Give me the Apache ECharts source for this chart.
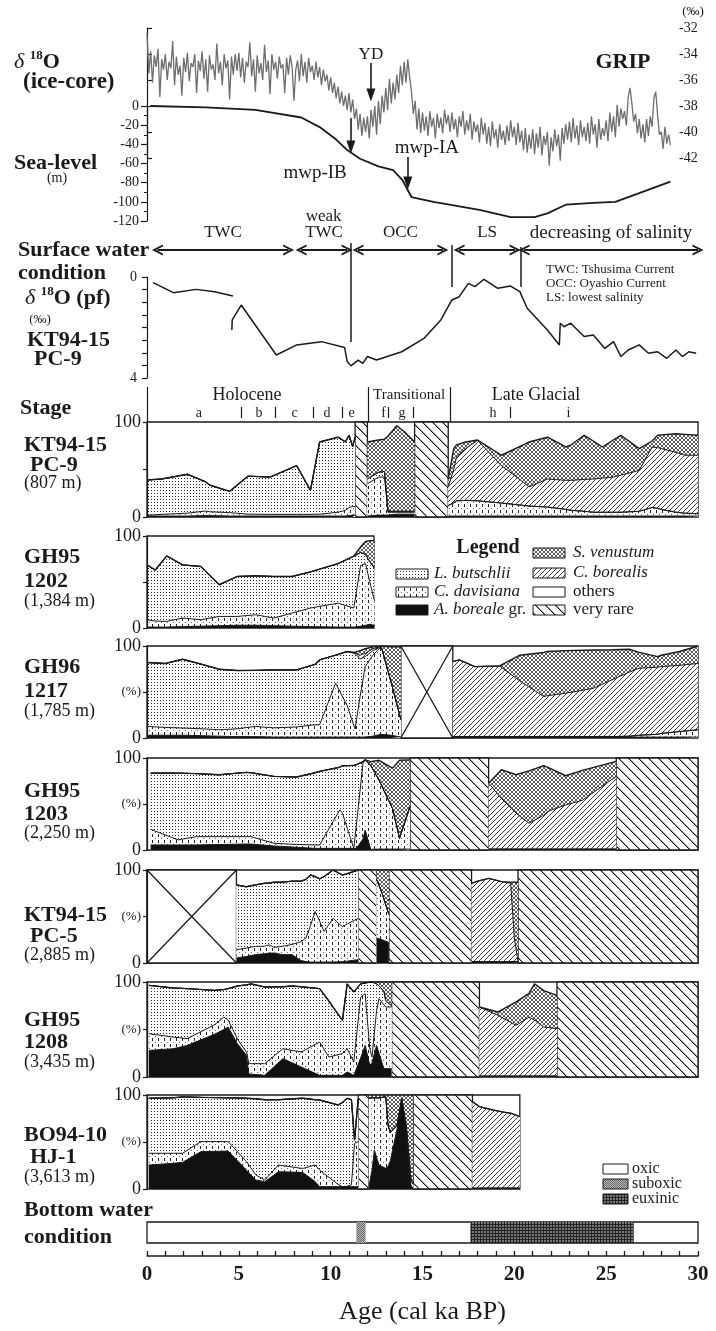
<!DOCTYPE html>
<html><head><meta charset="utf-8"><title>chart</title>
<script src="https://cdn.jsdelivr.net/npm/echarts@6/dist/echarts.min.js"></script>
<style>html,body{margin:0;padding:0;background:#fff;}#chart{width:716px;height:1331px;}</style>
</head><body><div id="chart"></div>
<script>
// ====================== DATA ======================
// GRIP ice-core d18O (permil), sampled every 0.1 ka from 0 ka
const gripStart = 0.0, gripStep = 0.1;
const gripValues = [
-32.4,-35.5,-33.8,-36.2,-34.1,-35.0,-33.6,-37.3,-34.4,-35.2,
-34.0,-36.0,-34.6,-35.1,-33.0,-36.4,-34.2,-35.6,-34.9,-37.2,
-34.3,-35.4,-33.9,-36.1,-34.7,-35.0,-34.0,-37.0,-34.5,-35.3,
-33.8,-35.9,-34.4,-36.9,-34.1,-35.2,-34.8,-36.0,-33.2,-35.5,
-34.6,-36.4,-34.0,-35.1,-34.5,-37.5,-34.2,-35.6,-34.0,-35.3,
-33.9,-35.8,-34.3,-36.2,-34.6,-35.0,-33.1,-35.7,-34.4,-36.9,
-34.1,-35.5,-34.7,-36.0,-33.3,-35.4,-34.5,-37.1,-34.0,-35.2,
-34.6,-35.9,-34.2,-35.1,-34.8,-37.0,-34.3,-35.6,-34.1,-35.0,
-37.6,-35.2,-34.5,-36.1,-34.0,-35.7,-34.6,-36.2,-34.3,-35.4,
-34.9,-36.0,-34.6,-35.8,-35.0,-36.4,-35.2,-36.1,-35.6,-36.8,
-35.8,-37.0,-36.2,-37.4,-36.5,-37.8,-36.9,-38.0,-37.2,-38.3,
-37.0,-38.5,-37.5,-39.0,-38.2,-39.8,-38.6,-40.3,-38.9,-40.0,
-38.8,-40.5,-38.3,-39.6,-38.0,-40.2,-37.6,-39.4,-37.2,-38.5,
-36.6,-38.3,-35.9,-37.8,-36.2,-37.5,-35.6,-37.0,-34.9,-36.4,
-34.6,-36.2,-34.4,-35.8,-36.9,-38.6,-37.6,-39.8,-38.2,-40.1,
-38.5,-39.9,-38.8,-40.3,-38.4,-39.6,-38.9,-40.5,-38.6,-39.7,
-38.9,-40.1,-38.3,-39.4,-38.7,-40.0,-38.5,-39.8,-39.0,-40.4,
-38.8,-39.6,-38.4,-40.2,-39.1,-39.9,-38.6,-40.6,-39.2,-40.0,
-39.4,-40.8,-38.9,-40.2,-39.3,-40.9,-39.6,-41.1,-39.2,-40.5,
-39.8,-41.2,-39.4,-40.6,-39.9,-41.0,-39.5,-40.7,-39.1,-40.4,
-39.6,-41.0,-39.3,-40.8,-39.9,-41.4,-39.7,-41.6,-40.2,-41.3,
-39.8,-41.7,-40.1,-41.2,-39.6,-41.8,-40.3,-41.0,-40.0,-42.6,
-40.4,-41.5,-39.8,-41.1,-40.2,-42.2,-39.7,-40.9,-39.4,-40.6,
-39.2,-40.8,-38.9,-40.5,-39.5,-41.0,-39.1,-40.4,-39.6,-40.7,
-39.3,-40.9,-38.8,-40.2,-39.4,-41.2,-39.0,-40.6,-39.7,-40.3,
-39.1,-40.7,-38.5,-40.0,-38.8,-40.4,-37.9,-39.6,-38.2,-39.0,
-38.4,-39.5,-37.3,-36.6,-37.8,-39.2,-38.6,-40.1,-39.0,-40.5,
-39.4,-40.8,-39.0,-40.3,-38.8,-39.6,-37.4,-36.9,-38.7,-40.2,
-40.0,-41.3,-39.6,-40.9,-40.2,-41.0
];

// Sea level (m)
const seaAges  = [0.2,3.2,5.9,8.4,9.4,10.3,10.9,11.6,12.6,13.4,13.9,14.4,15.6,18.1,19.8,21.1,21.8,22.8,24.3,25.5,26.8,28.5];
const seaLevel = [0,-1.4,-4,-12,-22,-35,-46,-55,-63,-67,-77,-95,-100,-108.5,-116,-116,-112,-103,-101,-100,-91,-79];

// d18O planktonic foraminifera, KT94-15 PC-9 (two pieces)
const pfAges1 = [0.33,1.44,2.68,3.68,4.68];
const pfValues1 = [0.22,0.62,0.49,0.58,0.75];
const pfAges2 = [4.62,4.64,5.13,7.04,8.15,9.5,10.76,10.9,11.1,11.5,11.75,12.0,12.5,13.87,15.1,16.0,16.6,17.0,17.5,17.85,18.35,19.1,19.8,20.3,20.7,21.8,22.45,22.5,22.7,23.07,23.8,24.3,24.93,25.4,25.8,26.2,26.8,27.3,27.8,28.3,28.8,29.15,29.5,29.9];
const pfValues2 = [2.1,1.7,1.11,3.09,2.69,2.56,2.79,3.35,3.52,3.29,3.42,3.15,3.29,2.96,2.42,1.70,0.91,0.78,0.25,0.38,0.09,0.45,0.36,0.58,1.24,2.1,2.69,1.83,1.97,1.83,2.36,2.30,2.83,2.56,3.15,2.89,2.69,3.02,2.96,3.22,2.89,3.15,2.96,3.02];

// Surface water conditions
const surfaceZones = [[0.57,7.71],[8.39,10.89],[11.49,16.11],[16.99,20.04],[20.53,30]];
const surfaceNames = ['TWC','TWC','OCC','LS','decreasing of salinity'];
const surfaceBoundaries = [11.1,16.6,20.36];
const eventNames = ['YD','mwp-IB','mwp-IA'];
const eventAges = [12.19,11.1,14.2];

// Stages
const stageNames = ['Holocene','Transitional','Late Glacial'];
const stageBounds = [0,12.03,16.49];
const substageNames = ['a','b','c','d','e','f','g','h','i'];
const substageBounds = [5.12,6.97,9.04,10.64,13.12,14.48,19.76];

// Cumulative tops (%) of: B = A. boreale gr., D = C. davisiana, L = L. butschlii, C = C. borealis, S = S. venustum
// KT94-15 PC-9
const pc9A_age = [0,0.8,2.2,3.2,3.4,4.5,5.5,6.7,8.15,8.9,9.4,10.4,10.8,11.0,11.2,11.33];
const pc9A_B = [1,1,1,1.5,1.5,1,1,1,1,1,1,1,1,1.5,2,2];
const pc9A_D = [1.7,2.8,4,6.3,5.5,4.6,3,2.8,2.8,2.8,3,5,7,10,11,11];
const pc9A_L = [39,40,45,37,33.7,27,43,42,54,28,79,84,79,86,74,84];
const pc9B_age = [12.0,12.6,12.93,13.12,13.6,14.0,14.57];
const pc9B_B = [1,2,2,2,3,3,3];
const pc9B_D = [35,42,42,5,5,5,5];
const pc9B_L = [40,47,48,6,6,6,6];
const pc9B_S = [79,81,82,85,96,90,79];
const pc9C_age = [16.4,16.7,16.85,17.35,18.0,19.3,20.6,20.8,21.8,22.8,23.1,23.8,24.3,24.8,25.3,25.8,26.8,27.5,27.8,28.0,28.8,29.3,30];
const pc9C_B = [1,1,1,1,1,1,1,1,1,1,1,1,1,1,1,1,1,1,1,1,1,1,1];
const pc9C_D = [12,15,17,17.5,17,14.7,12,11.5,10.5,8,7,6,5,5,5,5,6,10,9,8,5,4,3.5];
const pc9C_C = [31.6,50,63,72,80.7,54,35,31.6,40,38.6,38.6,39.5,40,41,41.7,44,49,73.7,73,72,68,65,65];
const pc9C_S = [40,72,76,79,81,65,77,79,84,73.7,76,86,80,73.7,80,86,72,80,86,86.5,87.7,87,86];
const pc9Rare = [[11.33,12.0],[14.57,16.4]];

// GH95-1202
const g1202_age = [0,0.45,1.07,1.94,2.93,3.93,4.92,5.92,6.9,7.9,8.9,10.4,11.26,11.63,11.9,12.13,12.38];
const g1202_B = [1,1,1,1.5,2,2.5,3,3,2.5,2,1.5,1,1,2,3,4,3];
const g1202_D = [9,7.5,7.2,10.8,9,12.6,12.6,14.4,10.8,16.2,21.7,27,21.7,68,70,50,30];
const g1202_L = [68.6,63,78.3,68.6,66.8,47,56,56.7,56,56,61,70,78,82,80,72,65];
const g1202_S = [68.6,63,78.3,68.6,66.8,47,56,56.7,56,56,61,70,78,88,94,95,95];

// GH96-1217
const g1217A_age = [0,1.0,1.94,3.0,3.93,4.92,5.9,6.9,8.15,9.15,9.4,10.27,10.9,11.33,11.6,11.88,12.3,12.75,13.3,13.82];
const g1217A_B = [3,3,3,2.5,2,1.5,1.5,1,1,1,1,1,1,1,1,1,2,4,3,1];
const g1217A_D = [12.6,11.5,10.8,10,9,10,12.6,11,12,14.4,14.4,59.6,35,9.7,45,77.6,90,99,60,20];
const g1217A_L = [82,81,85.6,80,74.7,73.3,73.5,74,74,80,85,90,94,92,86,88.4,95,99,60,20];
const g1217A_C = [82,81,85.6,80,74.7,73.3,73.5,74,74,80,85,90,94,92,90,92,97,99.5,60,20];
const g1217A_S = [82,81,85.6,80,74.7,73.3,73.5,74,74,80,85,90,94,93,95,97,99,100,99,99];
const g1217B_age = [16.65,17.0,17.85,19.2,20.3,21.6,21.8,22.8,24.3,25.3,26.3,26.8,27.8,28.0,29.0,30];
const g1217B_B = [1,1,1,1,1,1,1,1,1,1,1,1,1,1,1,1];
const g1217B_D = [1.5,1.5,1.5,1.5,1.5,1.5,1.5,1.5,1.5,1.5,2,3,4,5,7,9];
const g1217B_C = [83,85,77.6,78.3,62,45,46,48.7,54,63,72,75.8,77,77.6,79,81];
const g1217B_S = [83,85,77.6,78.3,90,93,94,95,95.7,96,96.4,93,88.4,90,94,100];
const g1217None = [[13.82,16.65]];

// GH95-1203
const g1203A_age = [0.2,1.69,2.68,3.93,5.42,5.67,6.9,8.15,9.15,9.4,10.5,10.64,11.26,11.4,11.76,11.88,12.18,12.63,13.37,13.75,14.32];
const g1203A_B = [5.5,5.5,5.5,6,6.5,6.5,4.4,3,1.8,1.8,1.8,1.8,1.8,1.8,12,21.8,0.7,1,1,1,1];
const g1203A_D = [22.5,11,14.5,14.5,14.5,14.5,7.3,6,5.5,5.5,43.6,40,1.8,27,94.5,98,92,76,45,12.7,47];
const g1203A_L = [83.6,83.6,83,81.8,84.4,84,80,79.3,84,85.5,90,91.6,92,92.7,96,98,92,76,45,12.7,47];
const g1203A_S = [83.6,83.6,83,81.8,84.4,84,80,79.3,84,85.5,90,91.6,92,92.7,96,98,96,97.5,89,97.5,98];
const g1203B_age = [18.6,19.3,20.1,20.8,21.6,21.8,22.8,23.7,25.55];
const g1203B_B = [0.5,0.5,0.5,0.5,0.5,0.5,0.5,0.5,0.5];
const g1203B_D = [1,1,1,1,1,1,1,1,1];
const g1203B_C = [72.7,56,40,29,38,41.8,49,54,80];
const g1203B_S = [72.7,87.3,81.8,86,91.6,90,80.7,86.5,96.4];
const g1203Rare = [[14.32,18.6],[25.55,30]];

// KT94-15 PC-5
const pc5A_age = [4.87,5.4,5.9,6.4,6.66,6.9,7.4,7.9,8.4,8.65,8.9,9.15,9.4,9.64,10.14,10.64,10.9,11.5];
const pc5A_B = [5.4,7,9,10,10.7,10.7,9,9,2.5,1.5,1,1,1,1,1,1.5,2,3.6];
const pc5A_D = [14.3,16,17.9,18,19.6,16.8,18,20,23,26.8,40,55.4,45,33.9,48,39,42,48];
const pc5A_L = [84,82,84,85.7,86,86.8,87,88,88,90,94.6,93,90.4,93,100,94.6,96,100];
const pc5B_age = [12.5,12.8,13.17];
const pc5B_B = [27,25,22];
const pc5B_D = [90,75,52];
const pc5B_S = [100,100,100];
const pc5C_age = [17.67,18.0,18.6,19.3,19.8,20.0,20.2];
const pc5C_B = [1,1,1,1,1,1,1];
const pc5C_D = [1.5,1.5,1.5,1.5,1.5,1.5,1.5];
const pc5C_C = [85.7,88,91,87.5,85.7,26.8,1.8];
const pc5C_S = [85.7,88,91,87.5,87,86.8,86.8];
const pc5Rare = [[11.5,12.5],[13.17,17.67],[20.2,30]];
const pc5None = [[0,4.87]];

// GH95-1208
const g1208A_age = [0.1,1.44,2.19,3.68,4.18,4.42,4.92,5.42,5.54,5.67,6.41,7.4,7.9,8.4,9.4,9.9,10.64,10.9,11.26,11.63,11.88,12.13,12.25,12.5,12.63,12.9,13.0,13.32];
const g1208A_B = [28,29.8,33.3,45,50,52.6,35,22.8,3.5,3,1.75,19.3,15,10.5,1.75,1.75,1.75,5.3,1.75,20,33.3,12.3,15,33.3,25,8.8,8.8,8.8];
const g1208A_D = [45.6,42,40.4,55,63,60,40,26,15,14,14,29.8,28,26.3,36.8,21,24.6,29.8,15.8,84,87.7,30,21,70,82.5,76,73.7,73.7];
const g1208A_L = [96.5,93.7,93,91.2,92,93,95.8,97,97.5,98,94.7,95,95.8,95,93,80,59.6,98,89.5,98,99,100,100,98,96,90,80,75];
const g1208A_S = [96.5,93.7,93,91.2,92,93,95.8,97,97.5,98,94.7,95,95.8,95,93,80,59.6,98,89.5,98,99,100,100,100,100,100,100,100];
const g1208B_age = [18.1,19.1,20.1,20.8,21.1,21.6,22.32];
const g1208B_B = [0.5,0.5,0.5,0.5,0.5,0.5,0.5];
const g1208B_D = [1,1,1,1,1,1,1];
const g1208B_C = [73.7,65,54.4,63,60,52.6,50.9];
const g1208B_S = [73.7,68.4,79,88,98,91,86];
const g1208Rare = [[13.32,18.1],[22.32,30]];

// BO94-10 HJ-1
const hj1A_age = [0.1,1.44,1.94,2.93,4.42,5.42,5.92,6.41,7.16,8.4,8.52,9.15,9.4,10.4,10.64,10.9,11.13,11.3,11.5];
const hj1A_B = [25.5,27.3,28.4,39.7,40.4,20,9.6,7.8,18.4,17.7,17,8,2.5,2.5,2.5,2.5,2.5,2.5,2.5];
const hj1A_D = [38,38,38,50.4,50.4,29,15,9.6,25.5,22,22,25.5,20,5,2.5,3,4.3,48.6,50.4];
const hj1A_L = [96.5,97,98,97.5,97,96.5,96,95,95,96.5,96.5,95,94.7,89.4,92,96.5,95,52,96];
const hj1B_age = [12.08,12.25,12.38,12.63,13.0,13.12,13.25,13.62,13.87,14.12,14.37,14.5];
const hj1B_B = [2,20,41.5,25.5,22,24,30,64.5,95,64.5,4.3,0];
const hj1B_D = [96.5,97,97,97,98,68,60,68,96,66,10,5];
const hj1B_S = [100,100,100,100,100,100,100,100,100,100,100,100];
const hj1C_age = [17.72,18.1,18.84,19.34,19.84,20.3];
const hj1C_B = [0.5,0.5,0.5,0.5,0.5,0.5];
const hj1C_D = [1,1,1,1,1,1];
const hj1C_C = [93,87.6,84,82,80.5,77];
const hj1Rare = [[11.5,12.08],[14.5,17.72]];

// Bottom water condition
const suboxicRange = [11.4,11.9];
const euxinicRange = [17.6,26.5];

// ====================== STYLE / LAYOUT ======================
const FONT = '"Liberation Serif","Times New Roman",serif';
const INK = '#1a1a1a';
function tile(w,h,fn){const c=document.createElement('canvas');c.width=w;c.height=h;const g=c.getContext('2d');g.fillStyle='#fff';g.fillRect(0,0,w,h);fn(g,w,h);return c;}
const T = {
  butschlii: tile(3,3,g=>{g.fillStyle='#2a2a2a';g.fillRect(1,1,1,1);}),
  davisiana: tile(6,6,g=>{g.fillStyle='#222';g.fillRect(2,0,1,3);g.fillStyle='#666';g.fillRect(5,4,1,1);}),
  venustum: tile(4,4,g=>{g.fillStyle='#5a5a5a';for(let i=0;i<4;i++){g.fillRect(i,i,1,1);g.fillRect(3-i,i,1,1);}}),
  borealis: tile(5,5,g=>{g.fillStyle='#3a3a3a';for(let i=0;i<5;i++){g.fillRect(4-i,i,1,1);}}),
  veryRare: tile(10,10,g=>{for(let i=0;i<10;i++){g.fillStyle='#111';g.fillRect(i,i,1,1);g.fillStyle='#999';g.fillRect((i+1)%10,i,1,1);}}),
  euxinic: tile(3,3,g=>{g.fillStyle='#222';g.fillRect(0,0,3,1);g.fillRect(0,0,1,3);g.fillStyle='#777';g.fillRect(1,1,2,2);}),
  suboxic: tile(2,2,g=>{g.fillStyle='#666';g.fillRect(0,0,1,1);g.fillRect(1,1,1,1);g.fillStyle='#bbb';g.fillRect(1,0,1,1);g.fillRect(0,1,1,1);})
};
const patt = t => ({image:t, repeat:'repeat'});
const layerFill = {S:patt(T.venustum), C:patt(T.borealis), L:patt(T.butschlii), D:patt(T.davisiana), B:'#111'};
const LAYERS = ['S','C','L','D','B'];

const X0 = 147, XW = 551;
const grids=[], xAxes=[], yAxes=[], series=[], graphics=[];
function hiddenX(min,max){return {type:'value',min,max,show:false};}
function hiddenY(min,max,inv){return {type:'value',min,max,show:false,inverse:!!inv};}
function addGrid(g,xa,ya){const i=grids.length;grids.push(g);xa.gridIndex=i;ya.gridIndex=i;xAxes.push(xa);yAxes.push(ya);return i;}
const axLine = {show:true,lineStyle:{color:INK,width:1.2}};

function txt(x,y,text,font,align,extra){return Object.assign({type:'text',x:x,y:y,silent:true,z:100,
  style:{text:text,font:font,fill:INK,align:align||'left',textAlign:align||'left',verticalAlign:'middle',textVerticalAlign:'middle'}},extra||{});}

// ---- overlay grid (pixel-like y for annotations, age on x) ----
const gOv = addGrid({left:X0,top:0,width:XW,height:1331}, hiddenX(0,30), hiddenY(0,1331,true));

// ---- GRIP ----
const gGrip = addGrid({left:X0,top:28,width:528,height:130}, hiddenX(0,528/XW*30),
  {type:'value',position:'right',min:-42,max:-32,interval:2,axisLine:axLine,
   axisTick:{show:true,length:5,lineStyle:{color:INK,width:1.2}},
   axisLabel:{fontFamily:FONT,fontSize:14,color:INK,margin:4},splitLine:{show:false}});
series.push({type:'line',xAxisIndex:gGrip,yAxisIndex:gGrip,clip:false,symbol:'none',silent:true,
  lineStyle:{color:'#6e6e6e',width:1.3},data:gripValues.map((v,i)=>[gripStart+i*gripStep,v])});

// ---- Sea level ----
const gSea = addGrid({left:X0,top:106,width:XW,height:115}, hiddenX(0,30),
  {type:'value',min:-120,max:0,interval:20,axisLine:axLine,
   axisTick:{show:true,length:6,lineStyle:{color:INK,width:1.2}},
   minorTick:{show:true,splitNumber:2,length:3,lineStyle:{color:INK,width:1}},
   axisLabel:{fontFamily:FONT,fontSize:14,color:INK,margin:8},splitLine:{show:false},minorSplitLine:{show:false}});
series.push({type:'line',xAxisIndex:gSea,yAxisIndex:gSea,symbol:'none',silent:true,
  lineStyle:{color:INK,width:1.8},data:seaAges.map((a,i)=>[a,seaLevel[i]])});

// ---- pf d18O ----
const gPf = addGrid({left:X0,top:277,width:XW,height:101}, hiddenX(0,30),
  {type:'value',inverse:true,min:0,max:4,interval:0.5,axisLine:axLine,
   axisTick:{show:true,length:5,lineStyle:{color:INK,width:1.2}},
   axisLabel:{fontFamily:FONT,fontSize:14,color:INK,margin:10,formatter:v=>(v===0||v===4)?String(v):''},splitLine:{show:false}});
series.push({type:'line',xAxisIndex:gPf,yAxisIndex:gPf,symbol:'none',silent:true,lineStyle:{color:INK,width:1.5},data:pfAges1.map((a,i)=>[a,pfValues1[i]])});
series.push({type:'line',xAxisIndex:gPf,yAxisIndex:gPf,symbol:'none',silent:true,lineStyle:{color:INK,width:1.5},data:pfAges2.map((a,i)=>[a,pfValues2[i]])});

// ---- Assemblage panels ----
function mk(age,B,D,L,C,S){return {age,B,D,L:L||D,C:C||L||D,S:S||C||L||D};}
const panelDefs = [
  {top:422,bottom:517,end:30,pct:false,segs:[mk(pc9A_age,pc9A_B,pc9A_D,pc9A_L),mk(pc9B_age,pc9B_B,pc9B_D,pc9B_L,null,pc9B_S),mk(pc9C_age,pc9C_B,pc9C_D,null,pc9C_C,pc9C_S)],rare:pc9Rare,none:[],
   names:[['KT94-15',445,24],['PC-9',465,30]],depth:['(807 m)',483]},
  {top:536,bottom:628,end:12.36,pct:false,segs:[mk(g1202_age,g1202_B,g1202_D,g1202_L,null,g1202_S)],rare:[],none:[],
   names:[['GH95',557,24],['1202',581,24]],depth:['(1,384 m)',601]},
  {top:646,bottom:738,end:30,pct:true,segs:[mk(g1217A_age,g1217A_B,g1217A_D,g1217A_L,g1217A_C,g1217A_S),mk(g1217B_age,g1217B_B,g1217B_D,null,g1217B_C,g1217B_S)],rare:[],none:g1217None,
   names:[['GH96',667,24],['1217',691,24]],depth:['(1,785 m)',711]},
  {top:758,bottom:850,end:30,pct:true,segs:[mk(g1203A_age,g1203A_B,g1203A_D,g1203A_L,null,g1203A_S),mk(g1203B_age,g1203B_B,g1203B_D,null,g1203B_C,g1203B_S)],rare:g1203Rare,none:[],
   names:[['GH95',791,24],['1203',814,24]],depth:['(2,250 m)',833]},
  {top:870,bottom:963,end:30,pct:true,segs:[mk(pc5A_age,pc5A_B,pc5A_D,pc5A_L),mk(pc5B_age,pc5B_B,pc5B_D,null,null,pc5B_S),mk(pc5C_age,pc5C_B,pc5C_D,null,pc5C_C,pc5C_S)],rare:pc5Rare,none:pc5None,
   names:[['KT94-15',915,24],['PC-5',936,30]],depth:['(2,885 m)',955]},
  {top:982,bottom:1077,end:30,pct:true,segs:[mk(g1208A_age,g1208A_B,g1208A_D,g1208A_L,null,g1208A_S),mk(g1208B_age,g1208B_B,g1208B_D,null,g1208B_C,g1208B_S)],rare:g1208Rare,none:[],
   names:[['GH95',1020,24],['1208',1042,24]],depth:['(3,435 m)',1062]},
  {top:1095,bottom:1189,end:20.3,pct:true,segs:[mk(hj1A_age,hj1A_B,hj1A_D,hj1A_L),mk(hj1B_age,hj1B_B,hj1B_D,null,null,hj1B_S),mk(hj1C_age,hj1C_B,hj1C_D,null,hj1C_C)],rare:hj1Rare,none:[],
   names:[['BO94-10',1135,24],['HJ-1',1157,30]],depth:['(3,613 m)',1177]}
];

panelDefs.forEach(p=>{
  const gi = addGrid({left:X0,top:p.top,width:XW*p.end/30,height:p.bottom-p.top,show:true,borderColor:INK,borderWidth:1.3,backgroundColor:'transparent'},
    hiddenX(0,p.end),
    {type:'value',min:0,max:100,interval:50,z:10,axisLine:axLine,
     axisTick:{show:true,length:4,lineStyle:{color:INK,width:1.2}},
     axisLabel:{fontFamily:FONT,fontSize:18,color:INK,margin:6,formatter:v=>v===100?'100':v===0?'0':(p.pct?'{p|(%)}':''),rich:{p:{fontFamily:FONT,fontSize:13,color:INK}}},
     splitLine:{show:false}});
  p.segs.forEach(s=>{
    LAYERS.forEach(k=>{
      series.push({type:'line',xAxisIndex:gi,yAxisIndex:gi,symbol:'none',silent:true,
        lineStyle:{color:INK,width:k==='S'?1.4:1},
        areaStyle:{color:layerFill[k],opacity:1,origin:'start'},
        data:s.age.map((a,i)=>[a,s[k][i]])});
    });
  });
  const areas = p.rare.map(([a,b])=>[{xAxis:a,itemStyle:{color:patt(T.veryRare),borderColor:INK,borderWidth:1.3}},{xAxis:b}])
    .concat(p.none.map(([a,b])=>[{xAxis:a,itemStyle:{color:'#fff',borderColor:INK,borderWidth:1.3}},{xAxis:b}]));
  const xl = [];
  p.none.forEach(([a,b])=>{xl.push([{coord:[a,0]},{coord:[b,100]}]);xl.push([{coord:[a,100]},{coord:[b,0]}]);});
  series.push({type:'line',xAxisIndex:gi,yAxisIndex:gi,symbol:'none',silent:true,lineStyle:{width:0,opacity:0},data:[[0,0]],z:3,
    markArea:{silent:true,data:areas},
    markLine:{silent:true,symbol:'none',label:{show:false},lineStyle:{color:INK,width:1.3,type:'solid'},data:xl}});
  p.names.forEach(([t,y,x])=>graphics.push(txt(x,y,t,'bold 22px '+FONT)));
  graphics.push(txt(24,p.depth[1],p.depth[0],'18px '+FONT));
});

// ---- Bottom water bar ----
const gBw = addGrid({left:X0,top:1222,width:XW,height:21,show:true,borderColor:INK,borderWidth:1.3,backgroundColor:'#fff'}, hiddenX(0,30), hiddenY(0,1));
series.push({type:'line',xAxisIndex:gBw,yAxisIndex:gBw,symbol:'none',silent:true,lineStyle:{width:0,opacity:0},data:[[0,0]],
  markArea:{silent:true,data:[
    [{xAxis:suboxicRange[0],itemStyle:{color:patt(T.suboxic)}},{xAxis:suboxicRange[1]}],
    [{xAxis:euxinicRange[0],itemStyle:{color:patt(T.euxinic)}},{xAxis:euxinicRange[1]}]]}});

// ---- Bottom age axis ----
const gAx = addGrid({left:X0,top:1150,width:XW,height:106}, {type:'value',min:0,max:30,interval:1,position:'bottom',
   axisLine:{show:true,lineStyle:{color:INK,width:1.5}},
   axisTick:{show:true,inside:true,length:5,lineStyle:{color:INK,width:1.3}},
   axisLabel:{interval:0,fontFamily:FONT,fontSize:21,fontWeight:'bold',color:INK,margin:8,formatter:v=>v%5===0?String(v):''},
   splitLine:{show:false},
   name:'Age (cal ka BP)',nameLocation:'middle',nameGap:43,nameTextStyle:{fontFamily:FONT,fontSize:26,color:INK}},
  hiddenY(0,1));

// ---- Overlay annotations ----
const CHEV = 'path://M0,10L5,0L10,10L8.2,10L5,3.6L1.8,10Z';
const ovSeg = [];
function seg(x1,y1,x2,y2,w,s1,s2){ovSeg.push([{coord:[x1,y1],symbol:s1?s1[0]:'none',symbolSize:s1?s1[1]:0,lineStyle:{color:INK,width:w,type:'solid'}},{coord:[x2,y2],symbol:s2?s2[0]:'none',symbolSize:s2?s2[1]:0}]);}
const evY = [[63,95],[118,147],[157,183]];
eventAges.forEach((a,i)=>seg(a,evY[i][0],a,evY[i][1],1.6,null,['triangle',[9,13]]));
surfaceZones.forEach(([a,b])=>seg(a,250,b,250,2,[CHEV,[11,11]],[CHEV,[11,11]]));
const bdY = [[243,342],[245,287],[247,287]];
surfaceBoundaries.forEach((a,i)=>seg(a,bdY[i][0],a,bdY[i][1],1.5));
stageBounds.forEach(a=>seg(a,387,a,422,1.2));
substageBounds.forEach(a=>seg(a,407,a,418,1.2));
series.push({type:'line',xAxisIndex:gOv,yAxisIndex:gOv,symbol:'none',silent:true,lineStyle:{width:0,opacity:0},data:[[0,0]],z:6,
  markLine:{silent:true,symbol:'none',label:{show:false},lineStyle:{color:INK,type:'solid'},data:ovSeg}});

const ovLabels = [];
function lab(a,y,t,size){ovLabels.push({value:[a,y],label:{show:true,position:'inside',formatter:t,fontFamily:FONT,fontSize:size,color:INK,opacity:1}});}
const evLabelPos = [[12.19,55],[9.15,173],[15.24,148]];
eventNames.forEach((t,i)=>lab(evLabelPos[i][0],evLabelPos[i][1],t,i===0?17:19));
lab(9.62,217,'weak',17);
surfaceZones.forEach(([a,b],i)=>lab((a+b)/2,233,surfaceNames[i],i===4?19:17));
const stageLabelAt = [5.44,14.27,21.18];
stageNames.forEach((t,i)=>lab(stageLabelAt[i],395,t,i===1?15:18));
const subLabelAt = [2.83,6.1,8.03,9.8,11.14,12.88,13.88,18.84,22.95];
substageNames.forEach((t,i)=>lab(subLabelAt[i],413,t,14));
series.push({type:'scatter',xAxisIndex:gOv,yAxisIndex:gOv,symbol:'circle',symbolSize:1,silent:true,
  itemStyle:{color:'rgba(255,255,255,0)'},z:7,labelLayout:{hideOverlap:false},data:ovLabels});

// ---- Text (graphic) ----
function rich(x,y,text,richDef,align){const e=txt(x,y,text,'bold 22px '+FONT,align);e.style.rich=richDef;return e;}
const dRich = {d:{fontFamily:FONT,fontSize:22,fontStyle:'italic',lineHeight:26},b:{fontFamily:FONT,fontSize:22,fontWeight:'bold',lineHeight:26},s:{fontFamily:FONT,fontSize:13,fontWeight:'bold',verticalAlign:'top',lineHeight:14}};
graphics.push(rich(14,62,'{d|δ }{s|18}{b|O}',dRich));
graphics.push(txt(23,82,'(ice-core)','bold 23px '+FONT));
graphics.push(txt(14,163,'Sea-level','bold 22px '+FONT));
graphics.push(txt(57,178,'(m)','14px '+FONT,'center'));
graphics.push(txt(623,62,'GRIP','bold 22px '+FONT,'center'));
graphics.push(txt(693,12,'(‰)','13px '+FONT,'center'));
graphics.push(txt(18,250,'Surface water','bold 22px '+FONT));
graphics.push(txt(18,273,'condition','bold 22px '+FONT));
graphics.push(rich(25,298,'{d|δ }{s|18}{b|O (pf)}',dRich));
graphics.push(txt(40,320,'(‰)','13px '+FONT,'center'));
graphics.push(txt(27,340,'KT94-15','bold 22px '+FONT));
graphics.push(txt(34,359,'PC-9','bold 22px '+FONT));
graphics.push(txt(546,270,'TWC: Tshusima Current','13px '+FONT));
graphics.push(txt(546,284,'OCC: Oyashio Current','13px '+FONT));
graphics.push(txt(546,298,'LS: lowest salinity','13px '+FONT));
graphics.push(txt(20,408,'Stage','bold 22px '+FONT));
graphics.push(txt(488,548,'Legend','bold 20px '+FONT,'center'));
const iRich = {i:{fontFamily:FONT,fontSize:17,fontStyle:'italic'},n:{fontFamily:FONT,fontSize:17}};
function swatch(x,y,w,h,fill){graphics.push({type:'rect',silent:true,z:100,shape:{x:x,y:y,width:w,height:h},style:{fill:fill,stroke:INK,lineWidth:1}});}
const legL = [['{i|L. butschlii}',patt(T.butschlii),574],['{i|C. davisiana}',patt(T.davisiana),592],['{i|A. boreale}{n| gr.}','#111',610]];
legL.forEach(([t,f,y])=>{swatch(396,y-5,32,10,f);const e=txt(434,y,t,'17px '+FONT);e.style.rich=iRich;graphics.push(e);});
const legR = [['{i|S. venustum}',patt(T.venustum),553],['{i|C. borealis}',patt(T.borealis),573],['{n|others}','#fff',592],['{n|very rare}',patt(T.veryRare),610]];
legR.forEach(([t,f,y])=>{swatch(533,y-5,32,10,f);const e=txt(573,y,t,'17px '+FONT);e.style.rich=iRich;graphics.push(e);});
[['oxic','#fff',1169],['suboxic',patt(T.suboxic),1184],['euxinic',patt(T.euxinic),1199]].forEach(([t,f,y])=>{swatch(603,y-5,25,10,f);graphics.push(txt(632,y,t,'16px '+FONT));});
graphics.push(txt(24,1210,'Bottom water','bold 22px '+FONT));
graphics.push(txt(24,1237,'condition','bold 22px '+FONT));

const chart = echarts.init(document.getElementById('chart'),null,{renderer:'canvas',width:716,height:1331});
chart.setOption({animation:false,backgroundColor:'#fff',textStyle:{fontFamily:FONT},
  grid:grids,xAxis:xAxes,yAxis:yAxes,series:series,graphic:{elements:graphics}});
</script></body></html>
